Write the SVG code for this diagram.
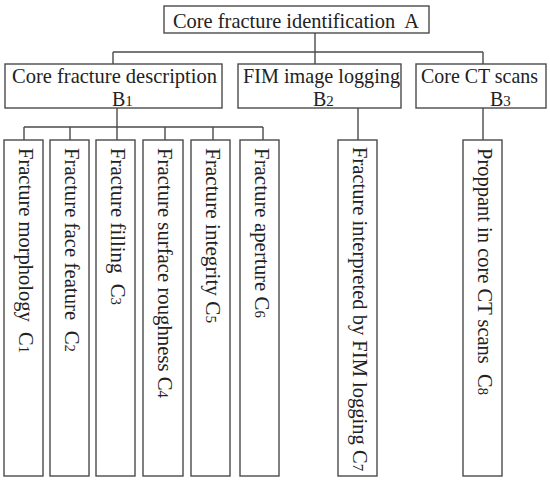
<svg xmlns="http://www.w3.org/2000/svg" width="550" height="481" viewBox="0 0 550 481">
<style>
rect{fill:#fff;stroke:#4a4a4a;stroke-width:1.4}
#connectors line{stroke:#4a4a4a;stroke-width:1.4}
text{font-family:"Liberation Serif","Times New Roman",serif;font-size:21px;fill:#222;white-space:pre}
.b{font-size:20px}
.s{font-size:15px}
</style>
<rect x="0" y="0" width="550" height="481" style="stroke:none"/>
<g id="connectors">
<line x1="315" y1="33" x2="315" y2="52"/>
<line x1="113" y1="52" x2="483" y2="52"/>
<line x1="113" y1="52" x2="113" y2="64"/>
<line x1="315" y1="52" x2="315" y2="64"/>
<line x1="483" y1="52" x2="483" y2="64"/>
<line x1="117" y1="108" x2="117" y2="127"/>
<line x1="24" y1="127" x2="263" y2="127"/>
<line x1="24" y1="127" x2="24" y2="140"/>
<line x1="70" y1="127" x2="70" y2="140"/>
<line x1="117" y1="127" x2="117" y2="140"/>
<line x1="165" y1="127" x2="165" y2="140"/>
<line x1="213" y1="127" x2="213" y2="140"/>
<line x1="263" y1="127" x2="263" y2="140"/>
<line x1="358" y1="108" x2="358" y2="140"/>
<line x1="483" y1="108" x2="483" y2="140"/>
</g>
<g id="A">
<rect x="164" y="6" width="265" height="27"/>
<text x="173" y="28" textLength="246" lengthAdjust="spacingAndGlyphs">Core fracture identification  A</text>
</g>
<g id="B1">
<rect x="5" y="64" width="217" height="44"/>
<text x="12" y="83" textLength="205" lengthAdjust="spacingAndGlyphs">Core fracture description</text>
<text class="b" x="112" y="106">B<tspan class="s">1</tspan></text>
</g>
<g id="B2">
<rect x="238" y="64" width="163" height="44"/>
<text x="243" y="83" textLength="157" lengthAdjust="spacingAndGlyphs">FIM image logging</text>
<text class="b" x="313" y="106">B<tspan class="s">2</tspan></text>
</g>
<g id="B3">
<rect x="416" y="64" width="130" height="44"/>
<text x="421" y="83" textLength="117" lengthAdjust="spacingAndGlyphs">Core CT scans</text>
<text class="b" x="490" y="106">B<tspan class="s">3</tspan></text>
</g>
<g id="C1">
<rect x="4" y="140" width="39" height="336"/>
<text transform="translate(18.5,148) rotate(90)" textLength="205" lengthAdjust="spacingAndGlyphs">Fracture morphology  C<tspan class="s">1</tspan></text>
</g>
<g id="C2">
<rect x="50" y="140" width="39" height="336"/>
<text transform="translate(64.5,148) rotate(90)" textLength="204" lengthAdjust="spacingAndGlyphs">Fracture face feature  C<tspan class="s">2</tspan></text>
</g>
<g id="C3">
<rect x="96" y="140" width="39" height="336"/>
<text transform="translate(110.5,148) rotate(90)" textLength="157" lengthAdjust="spacingAndGlyphs">Fracture filling  C<tspan class="s">3</tspan></text>
</g>
<g id="C4">
<rect x="143" y="140" width="40" height="336"/>
<text transform="translate(158,148) rotate(90)" textLength="250" lengthAdjust="spacingAndGlyphs">Fracture surface roughness C<tspan class="s">4</tspan></text>
</g>
<g id="C5">
<rect x="191" y="140" width="39" height="336"/>
<text transform="translate(205.5,148) rotate(90)" textLength="175" lengthAdjust="spacingAndGlyphs">Fracture integrity C<tspan class="s">5</tspan></text>
</g>
<g id="C6">
<rect x="240" y="140" width="39" height="336"/>
<text transform="translate(254.5,148) rotate(90)" textLength="170" lengthAdjust="spacingAndGlyphs">Fracture aperture C<tspan class="s">6</tspan></text>
</g>
<g id="C7">
<rect x="338" y="140" width="39" height="336"/>
<text transform="translate(352.5,147) rotate(90)" textLength="324" lengthAdjust="spacingAndGlyphs">Fracture interpreted by FIM logging C<tspan class="s">7</tspan></text>
</g>
<g id="C8">
<rect x="463" y="140" width="39" height="336"/>
<text transform="translate(477.5,148) rotate(90)" textLength="247" lengthAdjust="spacingAndGlyphs">Proppant in core CT scans  C<tspan class="s">8</tspan></text>
</g>
</svg>
